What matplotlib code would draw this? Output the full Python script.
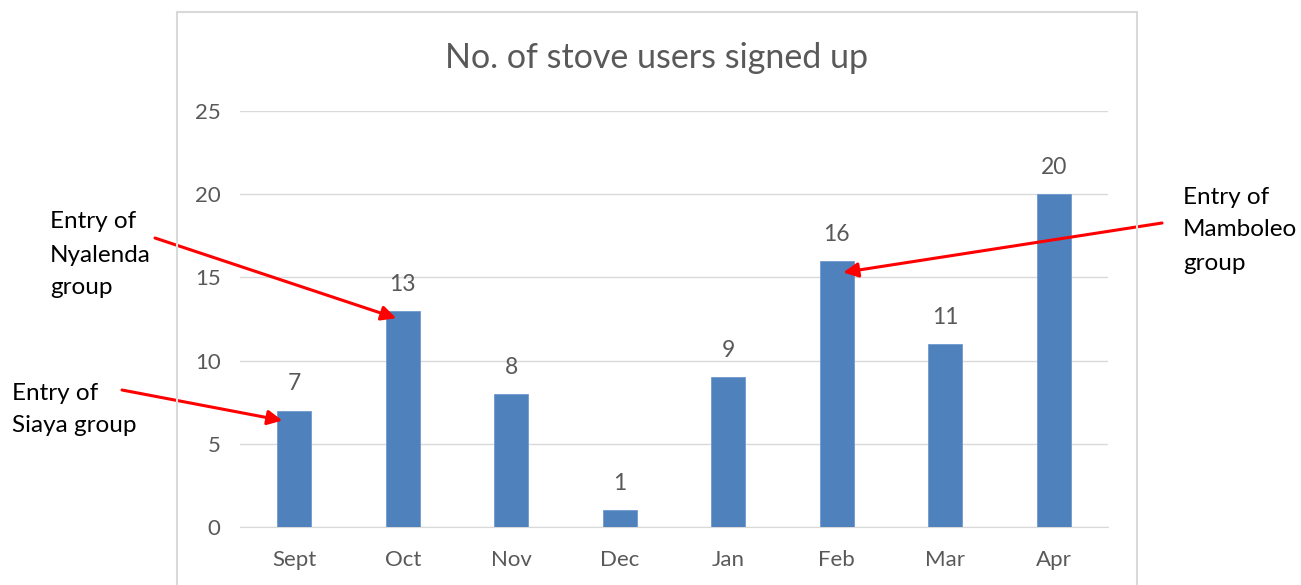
import matplotlib
matplotlib.use("Agg")
import matplotlib.pyplot as plt
from matplotlib.patches import Rectangle

months = ["Sept", "Oct", "Nov", "Dec", "Jan", "Feb", "Mar", "Apr"]
signups = [7, 13, 8, 1, 9, 16, 11, 20]
yticks = [0, 5, 10, 15, 20, 25]

# (label lines, bar index) for the red call-outs
notes = [
    (["Entry of", "Siaya group"], 0),
    (["Entry of", "Nyalenda", "group"], 1),
    (["Entry of", "Mamboleo", "group"], 5),
]

grey = "#595959"
grid = "#d9d9d9"
blue = "#4f81bd"

plt.rcParams["font.family"] = ["Lato", "DejaVu Sans"]

W, H = 1301, 585
fig = plt.figure(figsize=(W / 100, H / 100), dpi=100)
ax = fig.add_axes([240 / W, 58 / H, 868 / W, 416 / H])

# outer chart frame
fig.patches.append(Rectangle((177 / W, -0.05), 960 / W, 1.05 - 12 / H,
                             transform=fig.transFigure, fill=False,
                             edgecolor=grid, lw=1.5))

x = range(len(months))
bars = ax.bar(x, signups, width=0.31, color=blue, edgecolor="#6f99cf", lw=0.6, zorder=3)
for xi, v in zip(x, signups):
    ax.text(xi, v + 1.6, str(v), ha="center", va="center", fontsize=16.5, color=grey)

ax.set_xlim(-0.5, len(months) - 0.5)
ax.set_ylim(0, 25)
ax.set_yticks(yticks)
ax.set_xticks(list(x))
ax.set_xticklabels(months)
ax.tick_params(axis="both", length=0, labelsize=16, labelcolor=grey)
ax.tick_params(axis="x", pad=16.5)
ax.tick_params(axis="y", pad=14)
ax.grid(axis="y", color=grid, lw=1, zorder=0)
for s in ["left", "right", "top"]:
    ax.spines[s].set_visible(False)
ax.spines["bottom"].set_color(grid)

fig.text(657 / W, 1 - 58 / H, "No. of stove users signed up", ha="center", va="center",
         fontsize=24.5, color=grey)

# call-out text blocks and arrows
text_pos = {0: (12, 393), 1: (50, 222), 5: (1183, 197)}
tails = {0: (122, 390), 1: (155, 238), 5: (1162, 223)}
tips = {0: (-0.11, -0.6), 1: (-0.06, -0.45), 5: (0.06, -0.7)}
for lines, idx in notes:
    tx, ty = text_pos[idx]
    for k, line in enumerate(lines):
        fig.text(tx / W, 1 - (ty + k * 33) / H, line, ha="left", va="center",
                 fontsize=17.5, color="black")
    px, py = tails[idx]
    dx, dy = tips[idx]
    ax.annotate("", xy=(idx + dx, signups[idx] + dy), xycoords="data",
                xytext=(px, H - py), textcoords="figure pixels",
                arrowprops=dict(arrowstyle="-|>", color="#ff0000", lw=2.2,
                                mutation_scale=22, shrinkA=0, shrinkB=0),
                annotation_clip=False)

fig.savefig("out.png", dpi=100)
